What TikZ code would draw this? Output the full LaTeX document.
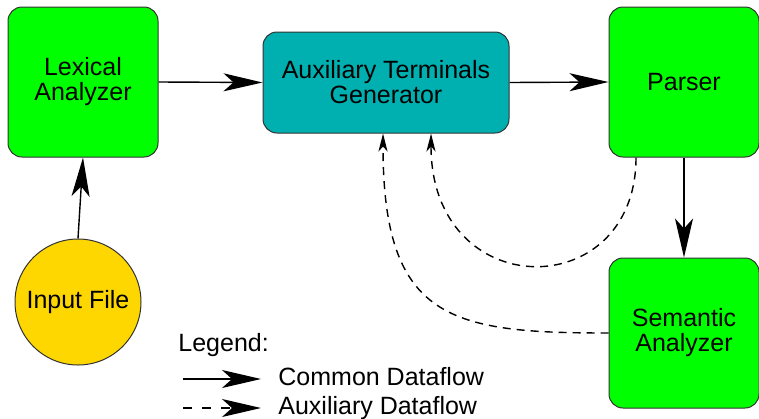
\documentclass[tikz,border=0pt]{standalone}
\usepackage{fontspec}
\setmainfont{Liberation Sans}
\usetikzlibrary{arrows.meta}

\definecolor{passgreen}{RGB}{0,255,0}
\definecolor{gencyan}{RGB}{0,176,176}
\definecolor{filegold}{RGB}{255,215,0}

\begin{document}
\begin{tikzpicture}[x=0.5pt, y=-0.5pt,
        font=\fontsize{12.5}{12.5}\selectfont,
        pass/.style={draw=black!80, line width=0.5pt, fill=passgreen, rounded corners=7pt,
            minimum width=75pt, minimum height=75pt, align=center},
        flow/.style={line width=0.7pt, -{Stealth[length=19.5pt, width=9pt, inset=5pt]}},
        auxflow/.style={line width=0.7pt, dash pattern=on 4pt off 3pt,
            -{Stealth[length=9pt, width=4.5pt, inset=2.5pt]}},
        legendtext/.style={anchor=base west, inner sep=0pt}]
        \useasboundingbox (0,0) rectangle (759,418);

        % compiler passes
        \node[pass] (lexer) at (83,82) {Lexical\\Analyzer};
        \node[draw=black!80, line width=0.5pt, fill=gencyan, rounded corners=7pt,
            minimum width=123pt, minimum height=50.5pt, align=center]
            (gen) at (386,82.5) {Auxiliary Terminals\\Generator};
        \node[pass] (parser) at (684,82) {Parser};
        \node[pass] (semantic) at (684,333) {Semantic\\Analyzer};
        \node[circle, draw=black!80, line width=0.5pt, fill=filegold, inner sep=0pt,
            minimum size=63pt] (input) at (78,302) {Input File};

        % common dataflow
        \draw[flow] (input.north) -- (lexer.south);
        \draw[flow] (lexer.east) -- (gen.west);
        \draw[flow] (gen.east) -- (parser.west);
        \draw[flow] (parser.south) -- (semantic.north);

        % auxiliary dataflow
        \draw[auxflow] ([xshift=-24pt]parser.south) .. controls (636,305) and (431,305) .. ([xshift=22.5pt]gen.south);
        \draw[auxflow] (semantic.west) .. controls (450,333) and (383,320) .. ([xshift=-1.5pt]gen.south);

        % legend
        \node[legendtext] (legend) at (178,351) {Legend:};
        \coordinate (solidfrom) at (183,379);
        \coordinate (solidto) at (261,379);
        \node[legendtext] (common) at (278,385) {Common Dataflow};
        \draw[flow] (solidfrom) -- (solidto);
        \coordinate (dashfrom) at (183,408);
        \coordinate (dashto) at (261,408);
        \node[legendtext] (auxiliary) at (278,414) {Auxiliary Dataflow};
        \draw[flow, dash pattern=on 4.5pt off 5pt] (dashfrom) -- (dashto);
    \end{tikzpicture}
\end{document}
